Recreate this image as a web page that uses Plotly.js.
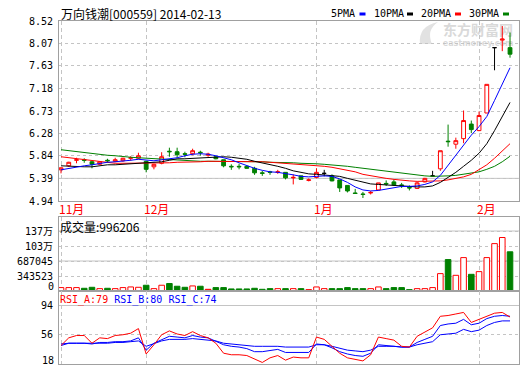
<!DOCTYPE html>
<html><head><meta charset="utf-8">
<script src="https://cdn.plot.ly/plotly-3.0.1.min.js"></script>
<style>html,body{margin:0;padding:0;background:#fff;}#chart{width:520px;height:365px;}</style>
</head><body><div id="chart"></div>
<script>
// ---- data ----
const dates = ["2013-11-15","2013-11-18","2013-11-19","2013-11-20","2013-11-21","2013-11-22","2013-11-25","2013-11-26","2013-11-27","2013-11-28","2013-11-29",
"2013-12-02","2013-12-03","2013-12-04","2013-12-05","2013-12-06","2013-12-09","2013-12-10","2013-12-11","2013-12-12","2013-12-13","2013-12-16","2013-12-17","2013-12-18","2013-12-19","2013-12-20","2013-12-23","2013-12-24","2013-12-25","2013-12-26","2013-12-27","2013-12-30","2013-12-31",
"2014-01-02","2014-01-03","2014-01-06","2014-01-07","2014-01-08","2014-01-09","2014-01-10","2014-01-13","2014-01-14","2014-01-15","2014-01-16","2014-01-17","2014-01-20","2014-01-21","2014-01-22","2014-01-23","2014-01-24","2014-01-27","2014-01-28","2014-01-29","2014-01-30",
"2014-02-07","2014-02-10","2014-02-11","2014-02-12","2014-02-13"];

const openP = [5.56,5.64,5.75,5.76,5.72,5.67,5.75,5.73,5.74,5.79,
5.79,5.73,5.62,5.69,5.93,5.92,5.88,5.88,5.91,5.85,
5.82,5.76,5.63,5.63,5.63,5.59,5.50,5.52,5.51,5.51,
5.40,5.44,5.35,5.41,5.49,5.44,5.36,5.25,5.10,5.08,
5.10,5.16,5.29,5.32,5.26,5.21,5.19,5.32,5.44,5.58,
6.13,6.07,6.18,6.47,6.34,6.69,7.99,8.14,7.99];
const highP = [5.61,5.72,5.80,5.79,5.74,5.73,5.78,5.80,5.80,5.83,
5.90,5.74,5.68,5.91,6.00,6.00,5.92,5.98,5.94,5.90,
5.83,5.76,5.67,5.68,5.64,5.62,5.54,5.54,5.56,5.51,
5.47,5.44,5.39,5.59,5.56,5.47,5.36,5.25,5.18,5.12,
5.14,5.30,5.35,5.37,5.30,5.25,5.32,5.40,5.54,5.94,
6.46,6.20,6.74,6.54,6.72,7.26,7.99,8.42,8.29];
const lowP = [5.49,5.62,5.69,5.70,5.59,5.66,5.70,5.71,5.72,5.74,
5.77,5.51,5.57,5.67,5.82,5.80,5.81,5.85,5.84,5.82,
5.77,5.61,5.56,5.57,5.58,5.46,5.44,5.46,5.48,5.37,
5.27,5.36,5.33,5.39,5.43,5.33,5.12,5.11,5.08,5.00,
5.07,5.15,5.24,5.24,5.20,5.15,5.18,5.31,5.44,5.54,
6.02,5.98,6.09,6.29,6.33,6.69,7.54,7.92,7.79];
const closeP = [5.60,5.71,5.76,5.75,5.67,5.72,5.74,5.76,5.79,5.80,
5.84,5.57,5.67,5.82,5.92,5.86,5.87,5.94,5.90,5.87,
5.78,5.64,5.62,5.62,5.59,5.50,5.49,5.51,5.52,5.40,
5.41,5.37,5.36,5.51,5.49,5.34,5.20,5.14,5.09,5.07,
5.11,5.30,5.28,5.26,5.25,5.20,5.30,5.39,5.44,5.94,
6.12,6.14,6.54,6.36,6.64,7.26,7.99,8.16,7.86];

const ma5 = [5.56,5.59,5.61,5.64,5.66,5.69,5.71,5.72,5.73,5.75,
5.77,5.75,5.74,5.76,5.78,5.80,5.84,5.87,5.88,5.87,
5.84,5.80,5.76,5.70,5.64,5.59,5.55,5.52,5.51,5.49,
5.46,5.43,5.42,5.43,5.44,5.43,5.38,5.31,5.22,5.16,
5.14,5.15,5.18,5.21,5.23,5.23,5.24,5.27,5.32,5.45,
5.65,5.84,6.06,6.25,6.42,6.62,6.94,7.27,7.59];
const ma10 = [5.64,5.63,5.62,5.62,5.62,5.64,5.66,5.66,5.67,5.69,
5.70,5.71,5.71,5.72,5.75,5.78,5.78,5.79,5.80,5.80,
5.81,5.82,5.81,5.79,5.77,5.73,5.70,5.67,5.63,5.59,
5.54,5.51,5.48,5.47,5.46,5.45,5.43,5.39,5.35,5.31,
5.28,5.27,5.26,5.25,5.24,5.22,5.22,5.22,5.24,5.31,
5.41,5.51,5.63,5.75,5.89,6.08,6.34,6.62,6.90];
const ma20 = [5.82,5.80,5.78,5.76,5.74,5.72,5.70,5.69,5.69,5.69,
5.69,5.69,5.69,5.69,5.70,5.71,5.71,5.72,5.72,5.73,
5.73,5.73,5.73,5.73,5.73,5.73,5.72,5.71,5.70,5.69,
5.67,5.66,5.65,5.64,5.63,5.61,5.58,5.55,5.52,5.47,
5.44,5.41,5.39,5.37,5.35,5.34,5.33,5.33,5.33,5.34,
5.36,5.39,5.42,5.47,5.56,5.66,5.79,5.94,6.08];
const ma30 = [5.96,5.94,5.92,5.90,5.88,5.86,5.85,5.84,5.82,5.81,
5.80,5.79,5.78,5.77,5.76,5.75,5.74,5.74,5.73,5.73,
5.73,5.72,5.72,5.72,5.72,5.72,5.72,5.71,5.71,5.70,
5.70,5.69,5.69,5.68,5.67,5.66,5.65,5.63,5.61,5.59,
5.57,5.55,5.53,5.51,5.49,5.47,5.45,5.44,5.43,5.43,
5.44,5.45,5.47,5.49,5.52,5.57,5.63,5.72,5.83];

const volume = [78000,78000,78000,62000,85000,54000,62000,54000,78000,93000,
85000,132000,54000,132000,171000,109000,85000,116000,109000,39000,
78000,78000,47000,47000,47000,62000,39000,54000,54000,54000,
54000,54000,31000,93000,54000,54000,54000,78000,54000,54000,
54000,93000,54000,78000,78000,31000,54000,54000,78000,398000,
720000,359000,765000,382000,444000,765000,1085000,1225000,898000];

const rsiA = [42,52,55,55,45,52,51,55,56,58,
64,31,43,56,61,57,55,60,55,52,
45,32,30,30,29,24,20,26,29,23,
27,26,26,53,50,41,32,26,24,22,
30,53,51,49,41,40,54,60,65,80,
81,83,85,72,76,81,84,85,79];
const rsiB = [42,45,45,45,44,46,46,47,47,48,
52,36,45,50,54,53,52,55,53,52,
47,43,41,40,38,34,34,36,37,33,
33,33,33,44,43,39,34,31,29,28,
32,43,42,41,40,40,46,50,54,68,
70,71,76,69,71,77,80,81,80];
const rsiC = [44,45,45,45,45,45,45,46,46,47,
48,41,45,48,50,50,50,51,50,49,
48,45,44,43,42,41,41,41,41,40,
40,40,40,43,43,41,38,36,35,34,
36,41,41,41,40,40,43,45,47,56,
57,58,63,60,62,68,72,74,74];

const flatDays = [34, 48, 56];          // open == close, drawn in black
const solidRedVolDays = [19, 32];       // volume bars drawn filled red
const priceTicks = [4.94,5.39,5.84,6.28,6.73,7.18,7.63,8.07,8.52];
const volTicks = [343523, 687045, 1030568, 1374090];
const volTickText = ["343523","687045","103万","137万"];
const rsiTicks = [56, 94];
const monthTicks = ["2013-11-15","2013-12-02","2014-01-02","2014-02-07"];
const monthLabels = ["11月","12月","1月","2月"];
const title = "万向钱潮[000559] 2014-02-13";
const lastVolume = 996206;
const rsiLast = {A:79, B:80, C:74};

// ---- build ----
const RED='#ff0000', GREEN='#008000', BLUE='#0000ff', BLACK='#000000';
const isFlat = i => flatDays.includes(i);
const sel = (arr, f) => arr.map((v,i)=> f(i) ? v : null);

const traces = [];
const maLine = (y,c)=>({type:'scatter',mode:'lines',x:dates,y:y,xaxis:'x',yaxis:'y',line:{color:c,width:1},hoverinfo:'skip'});
traces.push(maLine(ma30,GREEN), maLine(ma20,RED), maLine(ma10,BLACK), maLine(ma5,BLUE));

traces.push({type:'candlestick',x:dates,
  open:sel(openP,i=>!isFlat(i)),high:sel(highP,i=>!isFlat(i)),low:sel(lowP,i=>!isFlat(i)),close:sel(closeP,i=>!isFlat(i)),
  xaxis:'x',yaxis:'y',whiskerwidth:0,hoverinfo:'skip',
  increasing:{line:{color:RED,width:1},fillcolor:'#ffffff'},
  decreasing:{line:{color:GREEN,width:1},fillcolor:GREEN}});
traces.push({type:'candlestick',x:dates,
  open:sel(openP,isFlat),high:sel(highP,isFlat),low:sel(lowP,isFlat),close:sel(closeP,isFlat),
  xaxis:'x',yaxis:'y',whiskerwidth:0,hoverinfo:'skip',
  increasing:{line:{color:BLACK,width:1},fillcolor:BLACK},
  decreasing:{line:{color:BLACK,width:1},fillcolor:BLACK}});

const volFill = volume.map((v,i)=> solidRedVolDays.includes(i) ? RED : (closeP[i]>=openP[i] ? '#ffffff' : GREEN));
const volLine = volume.map((v,i)=> (solidRedVolDays.includes(i) || closeP[i]>=openP[i]) ? RED : GREEN);
traces.push({type:'bar',x:dates,y:volume,xaxis:'x2',yaxis:'y2',hoverinfo:'skip',
  marker:{color:volFill,line:{color:volLine,width:1}}});

const rsiLine=(y,c)=>({type:'scatter',mode:'lines',x:dates,y:y,xaxis:'x3',yaxis:'y3',line:{color:c,width:1},hoverinfo:'skip'});
traces.push(rsiLine(rsiC,BLUE), rsiLine(rsiB,BLUE), rsiLine(rsiA,RED));

const H=365, T=21, B=1, PH=H-T-B;
const py = px => (H-B-px)/PH;   // pixel row -> paper y
const W=520, L=59, R=1, PW=W-L-R;
const pxX = px => (px-L)/PW;

const FRAME='#a0a0a0', GRID='#c4c4c4';
const tickFont={family:'DejaVu Sans Mono, Noto Sans CJK SC',size:10,color:'#000'};
const xa = (anchor)=>({type:'category',range:[-0.26,59.16],anchor:anchor,showline:true,mirror:true,linecolor:FRAME,linewidth:1,
  showgrid:true,gridcolor:GRID,griddash:'4px,3px',gridwidth:1,tickmode:'array',tickvals:monthTicks,showticklabels:false,ticks:'',
  zeroline:false,fixedrange:true,automargin:false});
const ya = (domain,range,tv,tt)=>({domain:domain,range:range,tickmode:'array',tickvals:tv,ticktext:tt,showgrid:true,gridcolor:GRID,griddash:'dot',
  showline:true,mirror:true,linecolor:FRAME,linewidth:1,ticks:'',zeroline:false,tickfont:tickFont,fixedrange:true,automargin:false,ticklabelstandoff:3});

const layout={width:W,height:H,margin:{l:L,r:R,t:T,b:B,pad:0},paper_bgcolor:'#fff',plot_bgcolor:'#fff',showlegend:false,
  font:{family:'Noto Sans CJK SC',size:12,color:'#000'},bargap:0.28,hovermode:false,
  xaxis:Object.assign(xa('y'),{rangeslider:{visible:false}}),
  xaxis2:xa('y2'), xaxis3:xa('y3'),
  yaxis:ya([py(201),1],[4.94,8.52],priceTicks,priceTicks.map(v=>v.toFixed(2))),
  yaxis2:ya([py(291),py(217)],[0,1374090*74/60],volTicks,volTickText),
  yaxis3:ya([0,py(291)],[18,18+73/0.7697],rsiTicks,rsiTicks.map(String)),
  shapes:[], annotations:[]};

// solid grid lines
[['y',5.39],['y2',1374090],['y2',687045],['y3',94]].forEach(([yr,v])=>layout.shapes.push(
  {type:'line',xref:'paper',x0:0,x1:1,yref:yr,y0:v,y1:v,line:{color:GRID,width:1},layer:'below'}));

// watermark (under the data)
layout.shapes.push({type:'rect',xref:'paper',yref:'paper',x0:pxX(440),x1:pxX(516),y0:py(38),y1:py(24),line:{width:0},layer:'below',
  label:{text:'东方财富网',textposition:'middle center',font:{family:'Noto Sans CJK SC',size:14,color:'#d9d9d9',weight:'bold'}}});
layout.shapes.push({type:'rect',xref:'paper',yref:'paper',x0:pxX(440),x1:pxX(516),y0:py(47),y1:py(38),line:{width:0},layer:'below',
  label:{text:'eastmoney.com',textposition:'middle center',font:{family:'DejaVu Sans',size:8,color:'#d9d9d9',weight:'bold'}}});
layout.shapes.push({type:'path',xref:'paper',yref:'paper',layer:'below',fillcolor:'#e2e2e2',line:{width:0},
  path:'M '+pxX(420)+','+py(44)+' Q '+pxX(418)+','+py(26)+' '+pxX(438)+','+py(22)+' Q '+pxX(426)+','+py(30)+' '+pxX(432)+','+py(44)+' Z'});

// legend markers
const legend=[['5PMA',331,BLUE,359.5],['10PMA',374,BLACK,407],['20PMA',421,RED,455],['30PMA',469,GREEN,503]];
legend.forEach(([t,x,c,mx])=>{
  layout.annotations.push({text:t,xref:'paper',yref:'paper',x:pxX(x-2),y:py(14),xanchor:'left',yanchor:'middle',showarrow:false,
    font:{family:'DejaVu Sans Mono',size:10,color:'#000'}});
  layout.shapes.push({type:'rect',xref:'paper',yref:'paper',x0:pxX(mx),x1:pxX(mx+6),y0:py(15.5),y1:py(12.5),line:{width:0},fillcolor:c});
});

layout.annotations.push({text:title,xref:'paper',yref:'paper',x:pxX(59),y:py(14),xanchor:'left',yanchor:'middle',showarrow:false,
  font:{family:'Noto Sans CJK SC',size:12,color:'#000'}});
monthTicks.forEach((d,k)=>layout.annotations.push({text:monthLabels[k],xref:'x',yref:'paper',x:d,xshift:-4,y:py(208),xanchor:'left',yanchor:'middle',
  showarrow:false,font:{family:'Noto Sans CJK SC',size:12,color:RED}}));
layout.annotations.push({text:'成交量:'+lastVolume,xref:'paper',yref:'paper',x:pxX(58),y:py(226),xanchor:'left',yanchor:'middle',showarrow:false,
  font:{family:'Noto Sans CJK SC',size:12,color:'#000'}});
layout.annotations.push({text:'<span style="color:#ff0000">RSI_A:'+rsiLast.A+'</span> <span style="color:#0000ff">RSI_B:'+rsiLast.B+' RSI_C:'+rsiLast.C+'</span>',
  xref:'paper',yref:'paper',x:pxX(58),y:py(300),xanchor:'left',yanchor:'middle',showarrow:false,font:{family:'DejaVu Sans Mono',size:10,color:'#000'}});
layout.annotations.push({text:'0',xref:'paper',yref:'y2',x:0,y:0,xshift:-3,yshift:5,xanchor:'right',yanchor:'middle',showarrow:false,font:tickFont});
layout.annotations.push({text:'18',xref:'paper',yref:'y3',x:0,y:18,xshift:-3,yshift:4,xanchor:'right',yanchor:'middle',showarrow:false,font:tickFont});

Plotly.newPlot('chart',traces,layout,{staticPlot:true,displayModeBar:false});
</script></body></html>
